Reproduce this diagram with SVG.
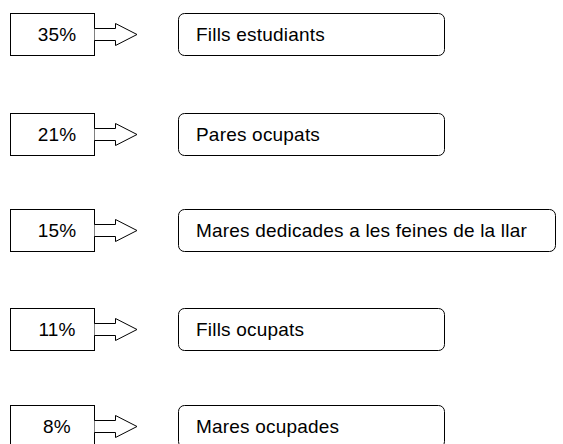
<svg xmlns="http://www.w3.org/2000/svg" width="563" height="444" viewBox="0 0 563 444">
<style>
.b{fill:#fff;stroke:#000;stroke-width:1}
.a{fill:#fff;stroke:#000;stroke-width:1;stroke-linejoin:miter}
text{font-family:"Liberation Sans",Arial,sans-serif;font-size:19px;letter-spacing:0.2px;fill:#000}
.p{text-anchor:middle}
</style>
<g id="row1">
<g id="pct1"><rect class="b" x="10.5" y="13.5" width="84" height="42"/><text class="p" x="57" y="41">35%</text></g>
<g id="lab1"><rect class="b" x="178.5" y="13.5" width="266" height="42" rx="6"/><text x="196" y="41">Fills estudiants</text></g>
</g>
<g id="row2">
<g id="pct2"><rect class="b" x="10.5" y="113.5" width="84" height="42"/><text class="p" x="57" y="141">21%</text></g>
<g id="lab2"><rect class="b" x="178.5" y="113.5" width="266" height="42" rx="6"/><text x="196" y="141">Pares ocupats</text></g>
</g>
<g id="row3">
<g id="pct3"><rect class="b" x="10.5" y="209.5" width="84" height="42"/><text class="p" x="57" y="237">15%</text></g>
<g id="lab3"><rect class="b" x="178.5" y="209.5" width="377" height="42" rx="6"/><text x="196" y="237">Mares dedicades a les feines de la llar</text></g>
</g>
<g id="row4">
<g id="pct4"><rect class="b" x="10.5" y="308.5" width="84" height="42"/><text class="p" x="57" y="336">11%</text></g>
<g id="lab4"><rect class="b" x="178.5" y="308.5" width="266" height="42" rx="6"/><text x="196" y="336">Fills ocupats</text></g>
</g>
<g id="row5">
<g id="pct5"><rect class="b" x="10.5" y="405.5" width="84" height="42"/><text class="p" x="57" y="433">8%</text></g>
<g id="lab5"><rect class="b" x="178.5" y="405.5" width="266" height="42" rx="6"/><text x="196" y="433">Mares ocupades</text></g>
</g>
<g id="connectors">
<path class="a" d="M94.5,28.5 H115.5 V23.5 L137,34.5 L115.5,45.5 V40.5 H94.5"/>
<path class="a" d="M94.5,128.5 H115.5 V123.5 L137,134.5 L115.5,145.5 V140.5 H94.5"/>
<path class="a" d="M94.5,224.5 H115.5 V219.5 L137,230.5 L115.5,241.5 V236.5 H94.5"/>
<path class="a" d="M94.5,323.5 H115.5 V318.5 L137,329.5 L115.5,340.5 V335.5 H94.5"/>
<path class="a" d="M94.5,420.5 H115.5 V415.5 L137,426.5 L115.5,437.5 V432.5 H94.5"/>
</g>
</svg>
